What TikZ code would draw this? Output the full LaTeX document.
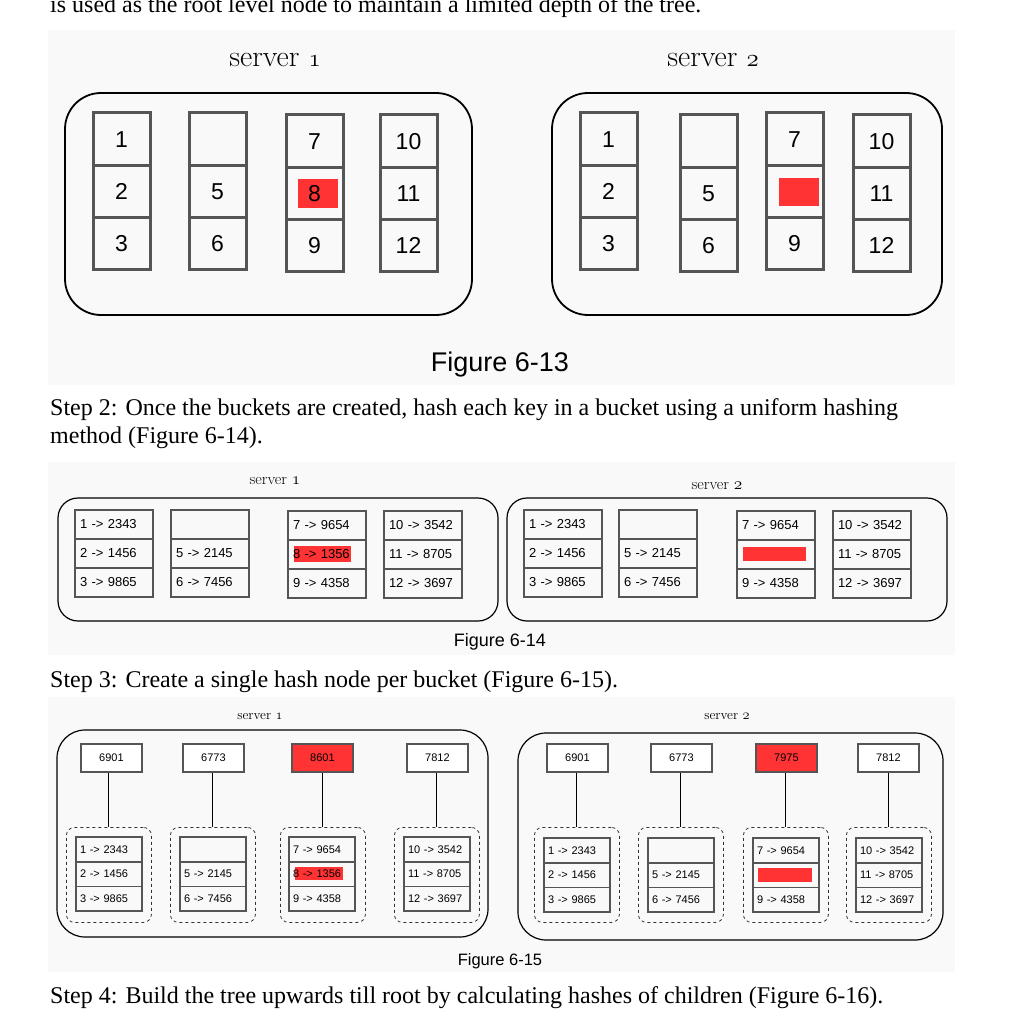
\documentclass[tikz,border=0pt]{standalone}
\usepackage{fontspec}
\usepackage{tikz}
\newfontfamily\bodyfont{Liberation Serif}
\newfontfamily\arial{Liberation Sans}
\definecolor{hashred}{HTML}{FF3333}
\definecolor{cellgray}{HTML}{555555}
\definecolor{figbg}{HTML}{F9F9F9}
\newcommand{\onum}[1]{{\usefont{OML}{lmm}{m}{it}#1}}

\tikzset{
  bodytext/.style={anchor=base west, inner sep=0pt, align=left, font=\bodyfont\fontsize{24}{28}\selectfont},
  caption/.style={anchor=base, inner sep=0pt, font=\arial},
  srvlabel/.style={anchor=base, inner sep=0pt},
  bigcell/.style={draw=cellgray, line width=3pt, minimum width=57pt, minimum height=52.3pt, outer sep=0pt, inner sep=0pt, font=\arial\fontsize{23}{23}\selectfont},
  midcell/.style={draw=cellgray, line width=2pt, text width=68pt, inner xsep=5pt, inner ysep=0pt, minimum height=29pt, outer sep=0pt, align=left, font=\arial\fontsize{13}{13}\selectfont},
  smallcell/.style={draw=cellgray, line width=1.8pt, text width=58pt, inner xsep=4pt, inner ysep=0pt, minimum height=24.7pt, outer sep=0pt, align=left, font=\arial\fontsize{11}{11}\selectfont},
  hashbox/.style={draw=cellgray, line width=1.8pt, fill=white, minimum width=61pt, minimum height=28pt, inner sep=0pt, font=\arial\fontsize{11}{11}\selectfont},
  dashbox/.style={draw=black!80, dashed, line width=0.8pt, rounded corners=8pt, minimum width=85pt, minimum height=95pt, inner sep=0pt},
  link/.style={draw=black, line width=1pt}
}

\begin{document}
\begin{tikzpicture}[x=1pt,y=-1pt]
\useasboundingbox (0,0) rectangle (1032,1032);

% figure backgrounds
\fill[figbg] (48,30) rectangle (955,385);
\fill[figbg] (48,462) rectangle (955,655);
\fill[figbg] (48,697) rectangle (955,972);

% running text
\node[bodytext] (intro) at (50,13) {is used as the root level node to maintain a limited depth of the tree.};
\node[bodytext] (step2) at (50,415) {Step 2: Once the buckets are created, hash each key in a bucket using a uniform hashing};
\node[bodytext] (step2b) at (50,443) {method (Figure 6-14).};
\node[bodytext] (step3) at (50,687) {Step 3: Create a single hash node per bucket (Figure 6-15).};
\node[bodytext] (step4) at (50,1003) {Step 4: Build the tree upwards till root by calculating hashes of children (Figure 6-16).};

%% Figure 6-13
\node[srvlabel, font=\fontsize{30}{30}\selectfont] (lbl13a) at (275,67) {server \onum{1}};
\node[srvlabel, font=\fontsize{30}{30}\selectfont] (lbl13b) at (713,67) {server \onum{2}};
\draw[line width=1.8pt, rounded corners=36pt] (65,93) rectangle (472,315);
\draw[line width=1.8pt, rounded corners=36pt] (552,93) rectangle (942,315);
\fill[hashred] (298,179) rectangle (338,208);
\fill[hashred] (779,178) rectangle (819,206);
\foreach \c/\x/\y/\a/\b/\d in {a/93/113/1/2/3, b/189/113//5/6, c/286/115/7/8/9, d/380/115/10/11/12,
                              e/580/113/1/2/3, f/680/115//5/6, g/766/113/7//9, h/853/115/10/11/12}{
  \node[bigcell, anchor=north west] (k\c1) at (\x,\y) {\a};
  \node[bigcell, anchor=north] (k\c2) at (k\c1.south) {\b};
  \node[bigcell, anchor=north] (k\c3) at (k\c2.south) {\d};
}
\node[caption, font=\arial\fontsize{27}{27}\selectfont] (cap13) at (500,371) {Figure 6-13};

%% Figure 6-14
\node[srvlabel, font=\fontsize{16}{16}\selectfont] (lbl14a) at (275,484) {server \onum{1}};
\node[srvlabel, font=\fontsize{16}{16}\selectfont] (lbl14b) at (717,489) {server \onum{2}};
\draw[line width=1.2pt, rounded corners=20pt] (58,498) rectangle (498,621);
\draw[line width=1.2pt, rounded corners=20pt] (507,498) rectangle (947,621);
\fill[hashred] (294,546) rectangle (351,562);
\fill[hashred] (743,547) rectangle (806,561);
\foreach \c/\x/\y/\a/\b/\d in {a/75/510/1 -> 2343/2 -> 1456/3 -> 9865, b/171/510//5 -> 2145/6 -> 7456,
                              c/288/511/7 -> 9654/8 -> 1356/9 -> 4358, d/384/511/10 -> 3542/11 -> 8705/12 -> 3697,
                              e/524/510/1 -> 2343/2 -> 1456/3 -> 9865, f/619/510//5 -> 2145/6 -> 7456,
                              g/737/511/7 -> 9654//9 -> 4358, h/833/511/10 -> 3542/11 -> 8705/12 -> 3697}{
  \node[midcell, anchor=north west] (m\c1) at (\x,\y) {\a};
  \node[midcell, anchor=north] (m\c2) at (m\c1.south) {\b};
  \node[midcell, anchor=north] (m\c3) at (m\c2.south) {\d};
}
\node[caption, font=\arial\fontsize{18}{18}\selectfont] (cap14) at (500,646) {Figure 6-14};

%% Figure 6-15
\node[srvlabel, font=\fontsize{13.5}{13.5}\selectfont] (lbl15a) at (260,719) {server \onum{1}};
\node[srvlabel, font=\fontsize{13.5}{13.5}\selectfont] (lbl15b) at (727,719) {server \onum{2}};
\draw[line width=1.2pt, rounded corners=28pt] (57,730) rectangle (488,937);
\draw[line width=1.2pt, rounded corners=28pt] (518,733) rectangle (943,940);
\fill[hashred] (295,867) rectangle (343,880);
\fill[hashred] (758,868) rectangle (812,882);
\foreach \c/\hx/\h/\hc/\dx/\tx/\ty/\a/\b/\d in {
    a/80/6901/white/66/76/837/1 -> 2343/2 -> 1456/3 -> 9865,
    b/182/6773/white/170/180/837//5 -> 2145/6 -> 7456,
    c/291/8601/hashred/280/289/837/7 -> 9654/8 -> 1356/9 -> 4358,
    d/406/7812/white/394/404/837/10 -> 3542/11 -> 8705/12 -> 3697,
    e/546/6901/white/534/544/838/1 -> 2343/2 -> 1456/3 -> 9865,
    f/650/6773/white/638/648/838//5 -> 2145/6 -> 7456,
    g/755/7975/hashred/743/753/838/7 -> 9654//9 -> 4358,
    h/857/7812/white/846/856/838/10 -> 3542/11 -> 8705/12 -> 3697}{
  \node[hashbox, fill=\hc, anchor=north west] (h\c) at (\hx,743) {\h};
  \node[dashbox, anchor=north west] (d\c) at (\dx,827) {};
  \node[smallcell, anchor=north west] (s\c1) at (\tx,\ty) {\a};
  \node[smallcell, anchor=north] (s\c2) at (s\c1.south) {\b};
  \node[smallcell, anchor=north] (s\c3) at (s\c2.south) {\d};
  \draw[link] (d\c.north |- h\c.south) -- (d\c.north);
}
\node[caption, font=\arial\fontsize{16.5}{16.5}\selectfont] (cap15) at (500,965) {Figure 6-15};

\end{tikzpicture}
\end{document}
